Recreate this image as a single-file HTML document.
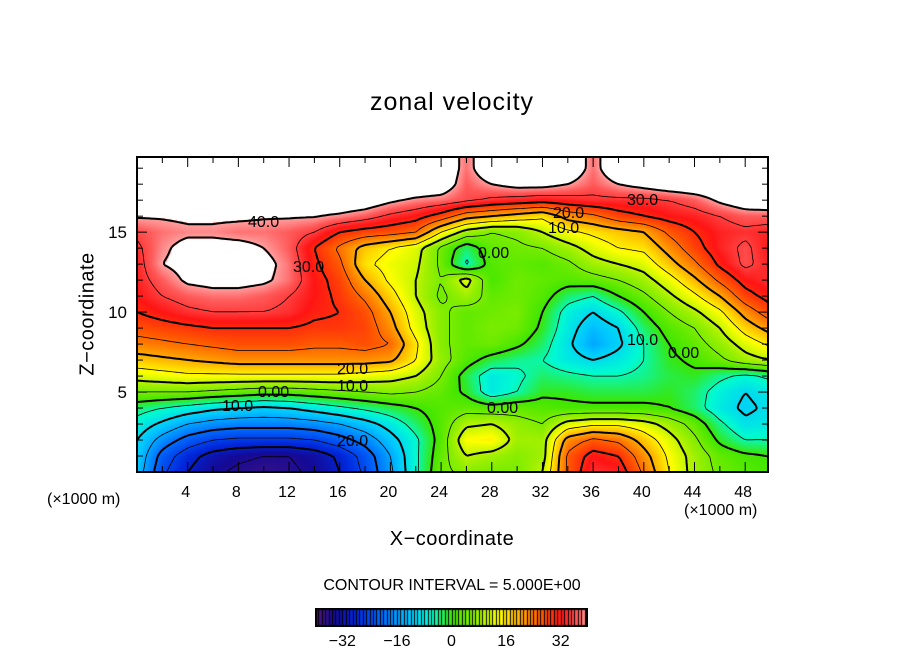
<!DOCTYPE html>
<html><head><meta charset="utf-8">
<style>
body{margin:0;background:#fff;width:904px;height:654px;overflow:hidden;position:relative;font-family:"Liberation Sans","DejaVu Sans",sans-serif;}
.t{position:absolute;color:#000;white-space:nowrap;}
#plotcanvas{position:absolute;left:137px;top:157px;}
svg{position:absolute;left:0;top:0;}
</style></head><body>
<div class="t" style="left:0;width:904px;text-align:center;top:88px;font-size:25px;letter-spacing:1px;">zonal velocity</div>
<canvas id="plotcanvas" width="631" height="315"></canvas>
<canvas id="cbcanvas" width="273" height="19" style="position:absolute;left:315px;top:608px;"></canvas>
<svg id="svg" width="904" height="654"></svg>
<div class="t" style="left:88px;top:314px;font-size:20px;transform:translate(-50%,-50%) rotate(-90deg);letter-spacing:0.5px;">Z−coordinate</div>
<div class="t" style="left:0;width:904px;text-align:center;top:528px;font-size:20px;letter-spacing:0.5px;">X−coordinate</div>
<div class="t" style="left:47px;top:491px;font-size:16px;">(×1000 m)</div>
<div class="t" style="left:684px;top:502px;font-size:16px;">(×1000 m)</div>
<div class="t" style="left:0;width:904px;text-align:center;top:577px;font-size:16px;">CONTOUR INTERVAL = 5.000E+00</div>
<script>
const W=45;
const gridX=[0,2,4,6,8,10,12,14,16,18,20,22,24,26,28,30,32,34,36,38,40,42,44,46,48,50];
const gridZ=[0,1,2,3,4,5,6,7,8,9,10,11,12,13,14,15,16,17,18,19,20];
const row0=[-12,-24,-30,-34,-36,-37,-36,-34,-30,-24,-16,-6,4,6,5,5,10,26,34,33,24,15,8,4,2,1];
const row1=[-11,-22,-28,-32,-34,-35,-35,-33,-29,-23,-15,-6,3,10,8,6,8,26,32,30,22,14,8,3,1,0];
const row2=[-10,-17,-22,-25,-26,-26,-26,-25,-22,-18,-12,-6,2,14,15,8,8,22,26,24,18,12,6,-1,-5,-5];
const row3=[-7,-11,-15,-17,-18,-18,-18,-17,-15,-12,-8,-3,2,9,10,7,5,12,14,14,12,8,3,-4,-9,-8];
const row4=[-3,-5,-7,-9,-10,-11,-10,-8,-6,-4,-2,0,2,3,2,3,2,1,1,1,1,0,-3,-8,-11,-9];
const row5=[5,5,5,4,3,2,2,3,4,5,6,5,3,-1,-8,-5,-1,-1,-2,-2,-2,-1,-3,-7,-10,-8];
const row6=[12,13,14,14,14,14,14,14,14,13,12,10,5,-2,-8,-6,-3,-4,-5,-5,-4,-2,-1,-4,-6,-4];
const row7=[18,19,20,21,22,22,22,22,22,22,21,15,7,2,-2,-4,-5,-8,-10,-8,-5,-1,1,4,8,10];
const row8=[23,24,25,26,27,27,27,26,26,27,25,16,6,3,4,1,-3,-9,-15,-11,-5,0,3,7,12,16];
const row9=[27,28,29,30,30,30,30,29,29,28,22,13,6,3,5,4,-1,-8,-13,-10,-3,2,5,10,17,22];
const row10=[30,32,34,35,35,35,34,31,30,27,20,12,6,3,4,5,0,-7,-10,-6,0,5,9,14,22,28];
const row11=[32,35,37,38,38,37,35,32,29,24,17,10,4,8,3,4,2,-3,-5,0,4,9,14,20,28,32];
const row12=[33,37,41,42,42,41,38,32,28,20,14,10,5,12,1,4,3,2,3,5,8,13,19,26,32,34];
const row13=[33,40,42,43,43,42,38,31,26,16,13,11,4,-6,2,3,2,4,8,10,12,18,24,31,36,33];
const row14=[34,39,42,42,42,40,37,30,24,18,15,12,4,-3,3,4,5,8,12,15,16,22,28,33,36,32];
const row15=[36,38,39,39,38,38,37,35,30,28,27,25,15,8,5,6,10,14,16,18,20,26,30,33,34,33];
const row16=[40.5,40.5,41,41,41,40.5,40.5,40.3,39,37,34,32,28,22,20,18,16,22,24,28,30,32,33,35,37,37];
const row17=[W,W,W,W,W,W,W,W,W,44,41,39,38,36,34,33,32,33,34,34,34,35,37,41,44,W];
const row18=[W,W,W,W,W,W,W,W,W,W,W,W,44,37,40,42,42,40,37,40,42,44,W,W,W,W];
const row19=[W,W,W,W,W,W,W,W,W,W,W,W,W,38,W,W,W,W,38,W,W,W,W,W,W,W];
const row20=[W,W,W,W,W,W,W,W,W,W,W,W,W,38,W,W,W,W,38,W,W,W,W,W,W,W];
const rows=[row0,row1,row2,row3,row4,row5,row6,row7,row8,row9,row10,row11,row12,row13,row14,row15,row16,row17,row18,row19,row20];
const xTicks=[4,8,12,16,20,24,28,32,36,40,44,48];
const zTicks=[5,10,15];
const cbTicks=[-32,-16,0,16,32];
const levels=[-35,-30,-25,-20,-15,-10,-5,0,5,10,15,20,25,30,35,40];

const PX0=137,PY0=472,PW=631,PH=315,XMAX=49.8,ZMAX=19.7;
const sx=x=>PX0+x/XMAX*PW, sz=z=>PY0-z/ZMAX*PH;
function field(x,z){
  let i=Math.min(gridX.length-2,Math.max(0,Math.floor(x/2))), j=Math.min(gridZ.length-2,Math.max(0,Math.floor(z)));
  let fx=(x-gridX[i])/2, fz=z-gridZ[j];
  const a=rows[j][i],b=rows[j][i+1],c=rows[j+1][i],d=rows[j+1][i+1];
  return (a*(1-fx)+b*fx)*(1-fz)+(c*(1-fx)+d*fx)*fz;
}
const stops=[[-40,[80,20,120]],[-34,[20,10,150]],[-28,[0,40,220]],[-20,[0,110,255]],[-12,[0,200,255]],[-6,[0,250,210]],[0,[60,230,0]],[8,[160,240,0]],[14,[255,255,0]],[20,[255,170,0]],[26,[255,90,0]],[32,[255,20,20]],[37,[255,90,90]],[40,[255,160,160]]];
function color(v){
  if(v>40.2) return [255,255,255];
  if(v<=stops[0][0]) return stops[0][1];
  for(let k=1;k<stops.length;k++){ if(v<=stops[k][0]){const [v0,c0]=stops[k-1],[v1,c1]=stops[k];const t=(v-v0)/(v1-v0);return c0.map((c,q)=>Math.round(c+(c1[q]-c)*t));}}
  return stops[stops.length-1][1];
}
const cv=document.getElementById('plotcanvas'),ctx=cv.getContext('2d'),img=ctx.createImageData(PW,PH);
for(let py=0;py<PH;py++)for(let px=0;px<PW;px++){
  const v=field((px+0.5)/PW*XMAX,(PH-py-0.5)/PH*ZMAX);const c=color(v);const o=(py*PW+px)*4;
  img.data[o]=c[0];img.data[o+1]=c[1];img.data[o+2]=c[2];img.data[o+3]=255;}
ctx.putImageData(img,0,0);
const cb=document.getElementById('cbcanvas'),cc=cb.getContext('2d');
for(let k=0;k<80;k++){const v=-40+k+0.5;const c=color(Math.min(v,40));cc.fillStyle=`rgb(${c})`;cc.fillRect(k*273/80,0,273/80+1,19);
 cc.fillStyle='#000';cc.fillRect(Math.round(k*273/80),0,1,19);}
cc.strokeStyle='#000';cc.lineWidth=2;cc.strokeRect(1,1,271,17);
const NS='http://www.w3.org/2000/svg',svg=document.getElementById('svg');
const step=3,nx=Math.ceil(PW/step),nz=Math.ceil(PH/step);
const F=[];for(let j=0;j<=nz;j++){F.push([]);for(let i=0;i<=nx;i++)F[j].push(field(Math.min(i*step,PW)/PW*XMAX,Math.min(j*step,PH)/PH*ZMAX));}
levels.forEach(L=>{
  let d='';
  for(let j=0;j<nz;j++)for(let i=0;i<nx;i++){
    const x0=PX0+i*step,x1=PX0+Math.min((i+1)*step,PW),y0=PY0-j*step,y1=PY0-Math.min((j+1)*step,PH);
    const v=[F[j][i],F[j][i+1],F[j+1][i+1],F[j+1][i]];
    const P=[[x0,y0],[x1,y0],[x1,y1],[x0,y1]];const pts=[];
    for(let e=0;e<4;e++){const a=v[e],b=v[(e+1)%4];if((a<L)!==(b<L)){const t=(L-a)/(b-a);const pa=P[e],pb=P[(e+1)%4];pts.push([pa[0]+(pb[0]-pa[0])*t,pa[1]+(pb[1]-pa[1])*t]);}}
    for(let k=0;k+1<pts.length;k+=2)d+=`M${pts[k][0].toFixed(1)} ${pts[k][1].toFixed(1)}L${pts[k+1][0].toFixed(1)} ${pts[k+1][1].toFixed(1)}`;
  }
  const p=document.createElementNS(NS,'path');
  
  
  p.setAttribute('d',d);p.setAttribute('fill','none');p.setAttribute('stroke','#000');
  p.setAttribute('stroke-width',L%10===0?2:0.8);
  if(L<0)p.setAttribute('stroke-dasharray','4 3');
  svg.appendChild(p);
});
const clabels=[["40.0",248,227],["30.0",293,272],["20.0",337,374],["10.0",337,391],["0.00",258,397],["10.0",222,411],["20.0",337,446],["0.00",478,258],["20.0",553,218],["10.0",548,233],["30.0",627,205],["0.00",487,413],["10.0",627,345],["0.00",668,358]];
clabels.forEach(l=>{const t=document.createElementNS(NS,'text');
  
  
  t.setAttribute('x',l[1]);t.setAttribute('y',l[2]);t.setAttribute('font-size','16');t.setAttribute('font-family','Liberation Sans, sans-serif');t.textContent=l[0];svg.appendChild(t);});
function line(x1,y1,x2,y2,w,name){const l=document.createElementNS(NS,'line');
  
  
  l.setAttribute('x1',x1);l.setAttribute('y1',y1);l.setAttribute('x2',x2);l.setAttribute('y2',y2);l.setAttribute('stroke','#000');l.setAttribute('stroke-width',w);svg.appendChild(l);}
const fr=document.createElementNS(NS,'rect');


fr.setAttribute('x',PX0);fr.setAttribute('y',PY0-PH);fr.setAttribute('width',PW);fr.setAttribute('height',PH);fr.setAttribute('fill','none');fr.setAttribute('stroke','#000');fr.setAttribute('stroke-width',2);svg.appendChild(fr);
for(let x=2;x<XMAX;x+=2){const X=sx(x),len=x%4===0?10:6;line(X,PY0,X,PY0-len,1,'x-tick');line(X,PY0-PH,X,PY0-PH+len,1,'x-tick-top');}
for(let z=1;z<ZMAX;z+=1){const Y=sz(z),len=z%5===0?10:6;line(PX0,Y,PX0+len,Y,1,'z-tick');line(PX0+PW,Y,PX0+PW-len,Y,1,'z-tick-right');}
function txt(s,x,y,anchor,size,name){const t=document.createElementNS(NS,'text');
  
  
  t.setAttribute('x',x);t.setAttribute('y',y);t.setAttribute('text-anchor',anchor);t.setAttribute('font-size',size);t.setAttribute('font-family','Liberation Sans, sans-serif');t.textContent=s;svg.appendChild(t);}
xTicks.forEach(v=>txt(String(v),sx(v)-2,497,'middle',16,'x-tick-label'));
zTicks.forEach(v=>txt(String(v),127,sz(v)+6,'end',17,'z-tick-label'));
cbTicks.forEach(v=>txt(String(v).replace('-','−'),315+(v+40)/80*273,646,'middle',16,'colorbar-tick-label'));
</script>
</body></html>
